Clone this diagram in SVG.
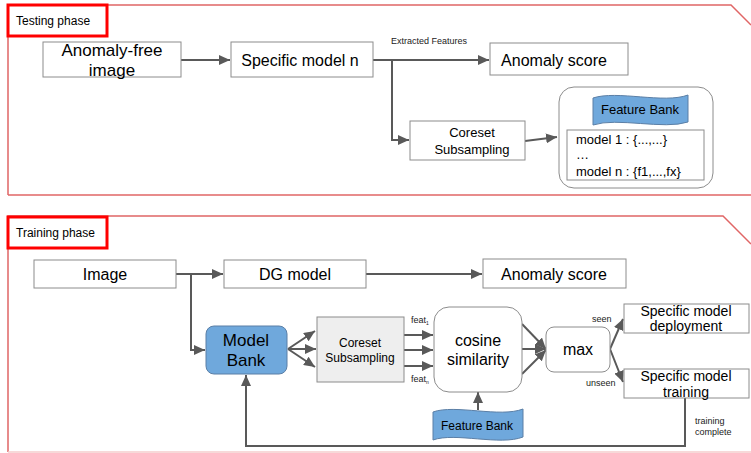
<svg xmlns="http://www.w3.org/2000/svg" width="751" height="453" viewBox="0 0 751 453">
<defs>
<style>
.panel{fill:none;stroke:#e06666;stroke-width:1.5}
.lbl{fill:none;stroke:#ff0000;stroke-width:3}
.box{fill:#fff;stroke:#8c8c8c;stroke-width:1}
.blue{fill:#6fa8dc;stroke:#5b7fa6;stroke-width:1}
.grey{fill:#eeeeee;stroke:#8c8c8c;stroke-width:1}
.conn{fill:none;stroke:#595959;stroke-width:2}
text{font-family:"Liberation Sans",Arial,sans-serif;fill:#000}
.c{text-anchor:middle}
.t17{font-size:17px}
.t16{font-size:16px}
.t14{font-size:14px}
.t13{font-size:13px}
.t12{font-size:12px}
.t10{font-size:10px}
.t9{font-size:9px;fill:#222}
</style>
<marker id="ah" markerUnits="userSpaceOnUse" markerWidth="12" markerHeight="10" refX="11" refY="5" orient="auto">
<path d="M0,0 L11,5 L0,10 Z" fill="#595959"/>
</marker>
</defs>

<g id="testing-panel">
<path class="panel" d="M8,195 L8,5 L731,5 L751,25"/>
<line class="panel" x1="8" y1="195" x2="751" y2="195"/>
<rect class="lbl" x="8" y="5" width="99" height="31"/>
<text x="16" y="25" class="t12">Testing phase</text>
</g>

<g id="training-panel">
<path class="panel" d="M8,452 L8,216 L723,216 L751,244"/>
<line x1="8" y1="452" x2="751" y2="452" stroke="#f4cccc" stroke-width="1.5"/>
<rect class="lbl" x="8" y="217" width="99" height="31"/>
<text x="16" y="237" class="t12">Training phase</text>
</g>

<g id="connectors">
<line class="conn" x1="181" y1="60" x2="230" y2="60" marker-end="url(#ah)"/>
<line class="conn" x1="373" y1="60" x2="489" y2="60" marker-end="url(#ah)"/>
<polyline class="conn" points="392,60 392,140 409,140" marker-end="url(#ah)"/>
<line class="conn" x1="525" y1="141" x2="557" y2="137" marker-end="url(#ah)"/>

<line class="conn" x1="176" y1="274" x2="223" y2="274" marker-end="url(#ah)"/>
<polyline class="conn" points="191,274 191,350 205,350" marker-end="url(#ah)"/>
<line class="conn" x1="366" y1="274" x2="482" y2="274" marker-end="url(#ah)"/>
<line class="conn" x1="288" y1="349" x2="315" y2="331" marker-end="url(#ah)"/>
<line class="conn" x1="288" y1="349" x2="316" y2="349" marker-end="url(#ah)"/>
<line class="conn" x1="288" y1="349" x2="315" y2="367" marker-end="url(#ah)"/>
<line class="conn" x1="404" y1="335" x2="433" y2="335" marker-end="url(#ah)"/>
<line class="conn" x1="404" y1="350" x2="433" y2="350" marker-end="url(#ah)"/>
<line class="conn" x1="404" y1="366" x2="433" y2="366" marker-end="url(#ah)"/>
<line class="conn" x1="522" y1="324" x2="546" y2="349" marker-end="url(#ah)"/>
<line class="conn" x1="522" y1="349" x2="546" y2="349" marker-end="url(#ah)"/>
<line class="conn" x1="522" y1="374" x2="546" y2="350" marker-end="url(#ah)"/>
<line class="conn" x1="610" y1="349" x2="623" y2="319" marker-end="url(#ah)"/>
<line class="conn" x1="610" y1="349" x2="623" y2="382" marker-end="url(#ah)"/>
<line class="conn" x1="478" y1="410" x2="478" y2="392" marker-end="url(#ah)"/>
<polyline class="conn" points="685,398 685,446 246,446 246,375" marker-end="url(#ah)"/>
<text x="391" y="44" class="t9">Extracted Features</text>
<text x="411" y="323" class="t9">feat<tspan font-size="5" dy="2">1</tspan></text>
<text x="411" y="382" class="t9">feat<tspan font-size="5" dy="2">n</tspan></text>
<text x="592" y="322" class="t9">seen</text>
<text x="586" y="386" class="t9">unseen</text>
<text x="695" y="424" class="t9">training</text>
<text x="695" y="435" class="t9">complete</text>
</g>

<g id="anomaly-free-image">
<rect class="box" x="43" y="42" width="138" height="35"/>
<text x="112" y="56" class="c t17">Anomaly-free</text>
<text x="112" y="76" class="c t17">image</text>
</g>
<g id="specific-model-n">
<rect class="box" x="231" y="42" width="142" height="35"/>
<text x="300" y="66" class="c t16">Specific model n</text>
</g>
<g id="anomaly-score-test">
<rect class="box" x="490" y="43" width="138" height="32"/>
<text x="554" y="66" class="c t16">Anomaly score</text>
</g>
<g id="coreset-test">
<rect class="box" x="410" y="121" width="115" height="39"/>
<text x="472" y="137" class="c t13">Coreset</text>
<text x="472" y="154" class="c t13">Subsampling</text>
</g>
<g id="feature-bank-container">
<rect class="box" x="559" y="87" width="154" height="101" rx="15" ry="15"/>
<path class="blue" d="M593,98 C617,90 664,104 688,95 L688,122 C664,130 617,117 593,125 Z"/>
<text x="640" y="114" class="c t13">Feature Bank</text>
<rect class="box" x="567" y="130" width="137" height="50"/>
<text x="576" y="144" class="t13">model 1 : {...,...}</text>
<text x="576" y="159" class="t13">…</text>
<text x="576" y="176" class="t13">model n : {f1,...,fx}</text>
</g>

<g id="image">
<rect class="box" x="34" y="260" width="142" height="28"/>
<text x="105" y="280" class="c t16">Image</text>
</g>
<g id="dg-model">
<rect class="box" x="224" y="260" width="142" height="28"/>
<text x="295" y="280" class="c t16">DG model</text>
</g>
<g id="anomaly-score-train">
<rect class="box" x="483" y="259" width="143" height="29"/>
<text x="554" y="280" class="c t16">Anomaly score</text>
</g>
<g id="model-bank">
<rect class="blue" x="206" y="326" width="81" height="48" rx="8" ry="8"/>
<text x="246" y="346" class="c t17">Model</text>
<text x="246" y="366" class="c t17">Bank</text>
</g>
<g id="coreset-train">
<rect class="grey" x="317" y="317" width="87" height="65"/>
<text x="360" y="347" class="c t12">Coreset</text>
<text x="360" y="362" class="c t12">Subsampling</text>
</g>
<g id="cosine-similarity">
<rect class="box" x="434" y="307" width="88" height="85" rx="15" ry="15"/>
<text x="478" y="346" class="c t16">cosine</text>
<text x="478" y="365" class="c t16">similarity</text>
</g>
<g id="max">
<rect class="box" x="546" y="327" width="64" height="45" rx="8" ry="8"/>
<text x="578" y="355" class="c t16">max</text>
</g>
<g id="specific-model-deployment">
<rect class="box" x="624" y="304" width="125" height="29"/>
<text x="686" y="316" class="c t14">Specific model</text>
<text x="686" y="331" class="c t14">deployment</text>
</g>
<g id="specific-model-training">
<rect class="box" x="624" y="369" width="125" height="29"/>
<text x="686" y="381" class="c t14">Specific model</text>
<text x="686" y="397" class="c t14">training</text>
</g>
<g id="feature-bank-train">
<path class="blue" d="M433,412 C455,404 500,418 523,409 L523,437 C500,446 455,432 433,440 Z"/>
<text x="477" y="430" class="c t12">Feature Bank</text>
</g>
</svg>
